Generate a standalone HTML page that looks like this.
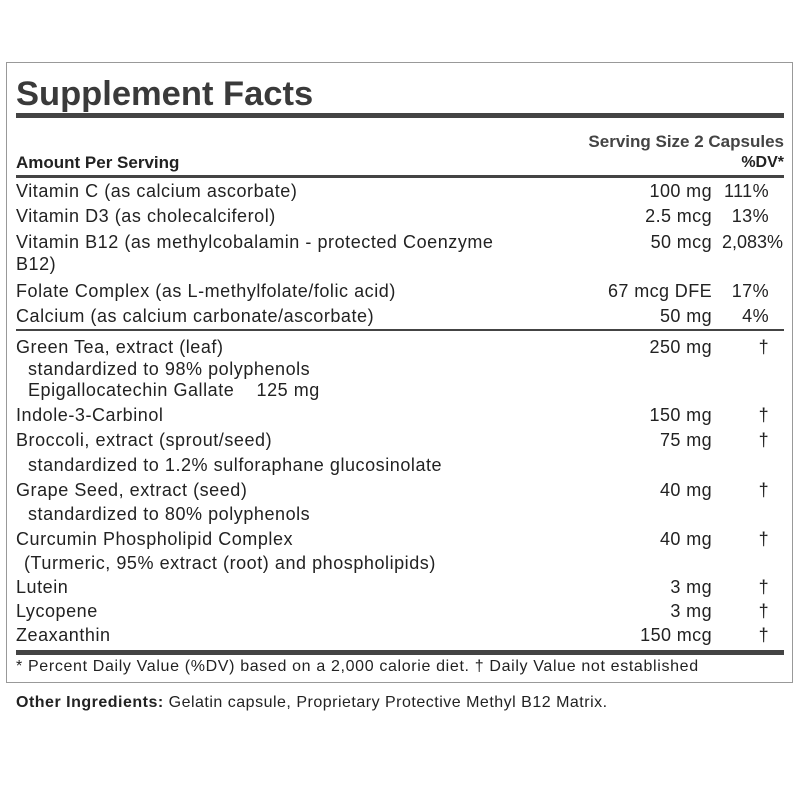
<!DOCTYPE html>
<html><head><meta charset="utf-8"><style>
html,body{margin:0;padding:0;width:800px;height:800px;background:#fff;overflow:hidden}
body{position:relative;font-family:"Liberation Sans",Arial,sans-serif;color:#222}
.box{position:absolute;left:6px;top:62px;width:785px;height:619px;border:1px solid #999}
.t{position:absolute;font-size:18px;line-height:20px;white-space:nowrap;letter-spacing:0.55px}
.r{position:absolute;font-size:18px;line-height:20px;white-space:nowrap;text-align:right;letter-spacing:0.4px}
.hr{position:absolute;left:16px;width:768px;background:#444}
</style></head><body>
<div class="box"></div>
<div class="t" style="left:16px;top:72px;font-size:34.5px;line-height:44px;font-weight:bold;color:#3a3a3a;letter-spacing:0">Supplement Facts</div>
<div class="hr" style="top:113px;height:5px"></div>
<div class="r" style="right:16px;top:132px;font-size:17px;font-weight:bold;color:#444;letter-spacing:0">Serving Size 2 Capsules</div>
<div class="t" style="left:16px;top:153px;font-size:17px;font-weight:bold;color:#222;letter-spacing:0">Amount Per Serving</div>
<div class="r" style="right:16px;top:153px;font-size:16px;font-weight:bold;color:#222;letter-spacing:0">%DV*</div>
<div class="hr" style="top:175px;height:3px"></div>

<div class="t" style="left:16px;top:181px">Vitamin C (as calcium ascorbate)</div>
<div class="r" style="right:88px;top:181px">100 mg</div><div class="r" style="right:31px;top:181px">111%</div>
<div class="t" style="left:16px;top:206px">Vitamin D3 (as cholecalciferol)</div>
<div class="r" style="right:88px;top:206px">2.5 mcg</div><div class="r" style="right:31px;top:206px">13%</div>
<div class="t" style="left:16px;top:232px">Vitamin B12 (as methylcobalamin - protected Coenzyme</div>
<div class="r" style="right:88px;top:232px">50 mcg</div><div class="r" style="right:17px;top:232px;letter-spacing:0">2,083%</div>
<div class="t" style="left:16px;top:254px">B12)</div>
<div class="t" style="left:16px;top:281px">Folate Complex (as L-methylfolate/folic acid)</div>
<div class="r" style="right:88px;top:281px">67 mcg DFE</div><div class="r" style="right:31px;top:281px">17%</div>
<div class="t" style="left:16px;top:306px">Calcium (as calcium carbonate/ascorbate)</div>
<div class="r" style="right:88px;top:306px">50 mg</div><div class="r" style="right:31px;top:306px">4%</div>
<div class="hr" style="top:329px;height:2px"></div>

<div class="t" style="left:16px;top:337px">Green Tea, extract (leaf)</div>
<div class="r" style="right:88px;top:337px">250 mg</div><div class="r" style="right:31px;top:337px">†</div>
<div class="t" style="left:28px;top:359px">standardized to 98% polyphenols</div>
<div class="t" style="left:28px;top:380px">Epigallocatechin Gallate &nbsp;&nbsp; 125 mg</div>
<div class="t" style="left:16px;top:405px">Indole-3-Carbinol</div>
<div class="r" style="right:88px;top:405px">150 mg</div><div class="r" style="right:31px;top:405px">†</div>
<div class="t" style="left:16px;top:430px">Broccoli, extract (sprout/seed)</div>
<div class="r" style="right:88px;top:430px">75 mg</div><div class="r" style="right:31px;top:430px">†</div>
<div class="t" style="left:28px;top:455px">standardized to 1.2% sulforaphane glucosinolate</div>
<div class="t" style="left:16px;top:480px">Grape Seed, extract (seed)</div>
<div class="r" style="right:88px;top:480px">40 mg</div><div class="r" style="right:31px;top:480px">†</div>
<div class="t" style="left:28px;top:504px">standardized to 80% polyphenols</div>
<div class="t" style="left:16px;top:529px">Curcumin Phospholipid Complex</div>
<div class="r" style="right:88px;top:529px">40 mg</div><div class="r" style="right:31px;top:529px">†</div>
<div class="t" style="left:24px;top:553px">(Turmeric, 95% extract (root) and phospholipids)</div>
<div class="t" style="left:16px;top:577px">Lutein</div>
<div class="r" style="right:88px;top:577px">3 mg</div><div class="r" style="right:31px;top:577px">†</div>
<div class="t" style="left:16px;top:601px">Lycopene</div>
<div class="r" style="right:88px;top:601px">3 mg</div><div class="r" style="right:31px;top:601px">†</div>
<div class="t" style="left:16px;top:625px">Zeaxanthin</div>
<div class="r" style="right:88px;top:625px">150 mcg</div><div class="r" style="right:31px;top:625px">†</div>
<div class="hr" style="top:650px;height:5px"></div>
<div class="t" style="left:16px;top:657px;font-size:16px;letter-spacing:0.65px">* Percent Daily Value (%DV) based on a 2,000 calorie diet. † Daily Value not established</div>
<div class="t" style="left:16px;top:693px;font-size:16px;letter-spacing:0.5px"><b>Other Ingredients:</b> Gelatin capsule, Proprietary Protective Methyl B12 Matrix.</div>
</body></html>
